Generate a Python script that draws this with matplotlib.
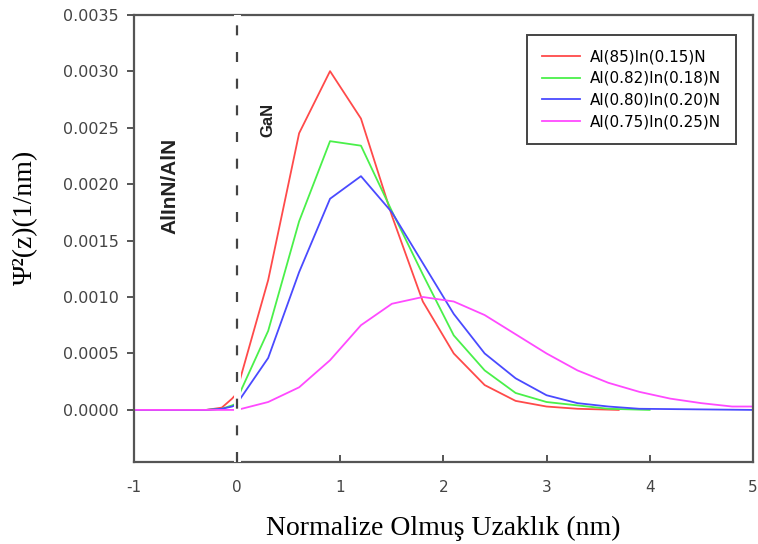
import matplotlib
matplotlib.use('Agg')
import matplotlib.pyplot as plt

plt.rcParams['axes.unicode_minus'] = False

# Data (x in nm, y = psi^2 in 1/nm)
x_red = [-1.0, -0.3, -0.15, -0.05, 0.0, 0.03, 0.3, 0.6, 0.9, 1.2, 1.5, 1.8, 2.1, 2.4, 2.7, 3.0, 3.3, 3.7]
y_red = [0, 0, 0.00002, 0.0001, 0.00015, 0.00028, 0.00115, 0.00245, 0.0030, 0.00258, 0.00172,
         0.00096, 0.00050, 0.00022, 0.00008, 0.00003, 0.00001, 0.0]

x_green = [-1.0, -0.3, -0.15, -0.05, 0.0, 0.03, 0.3, 0.6, 0.9, 1.2, 1.5, 1.8, 2.1, 2.4, 2.7, 3.0, 3.3, 3.6, 4.0]
y_green = [0, 0, 0.00001, 0.00004, 0.00006, 0.00016, 0.0007, 0.00167, 0.00238, 0.00234, 0.00176,
           0.0012, 0.00066, 0.00035, 0.00015, 0.00007, 0.00004, 0.00001, 0.0]

x_blue = [-1.0, -0.3, -0.15, -0.05, 0.0, 0.03, 0.3, 0.6, 0.9, 1.2, 1.5, 1.8, 2.1, 2.4, 2.7, 3.0, 3.3, 3.6, 3.9, 5.0]
y_blue = [0, 0, 0.00001, 0.00003, 0.00005, 0.0001, 0.00046, 0.00122, 0.00187, 0.00207, 0.00175,
          0.0013, 0.00085, 0.0005, 0.00028, 0.00013, 0.00006, 0.00003, 0.00001, 0.0]

x_mag = [-1.0, 0.0, 0.3, 0.6, 0.9, 1.2, 1.5, 1.8, 2.1, 2.4, 2.7, 3.0, 3.3, 3.6, 3.9, 4.2, 4.5, 4.8, 5.0]
y_mag = [0, 0, 0.00007, 0.0002, 0.00044, 0.00075, 0.00094, 0.001, 0.00096, 0.00084, 0.00067,
         0.0005, 0.00035, 0.00024, 0.00016, 0.0001, 0.00006, 0.00003, 0.00003]

labels = ['Al(85)In(0.15)N', 'Al(0.82)In(0.18)N', 'Al(0.80)In(0.20)N', 'Al(0.75)In(0.25)N']
colors = ['#ff4a4a', '#4af04a', '#4a4aff', '#ff4aff']

x_ticks = [-1, 0, 1, 2, 3, 4, 5]
y_ticks = [0.0, 0.0005, 0.0010, 0.0015, 0.0020, 0.0025, 0.0030, 0.0035]

fig = plt.figure(figsize=(7.58, 5.44), dpi=100)
ax = fig.add_axes([0.177, 0.151, 0.816, 0.822])

series = [(x_red, y_red), (x_green, y_green), (x_blue, y_blue), (x_mag, y_mag)]
for (xs, ys), lab, col in zip(series, labels, colors):
    ax.plot(xs, ys, color=col, lw=1.3, label=lab)

# interface line at z = 0 (white halo gives the break in curves and frame)
ax.axvline(0, color='white', lw=5, zorder=3)
ax.axvline(0, color='#444444', lw=1.6, ls=(0, (4.5, 7.5)), zorder=4)

ax.set_xlim(-1, 5)
ax.set_ylim(-0.00046, 0.0035)
ax.set_xticks(x_ticks)
ax.set_xticklabels([str(t) for t in x_ticks])
ax.set_yticks(y_ticks)
ax.set_yticklabels(['%.4f' % t for t in y_ticks])

for sp in ax.spines.values():
    sp.set_color('#555555')
    sp.set_linewidth(1.6)
ax.tick_params(axis='x', direction='in', length=5, width=1.4, color='#555555',
               labelsize=11, labelcolor='#444444', pad=13)
ax.tick_params(axis='y', direction='out', length=5, width=1.4, color='#555555',
               labelsize=11.5, labelcolor='#444444', pad=6)
for t in ax.get_xticklabels() + ax.get_yticklabels():
    t.set_family('DejaVu Sans')

ax.set_xlabel('Normalize Olmuş Uzaklık (nm)', family='Liberation Serif', fontsize=20, labelpad=15)
ax.set_ylabel('Ψ²(z)(1/nm)', family='Liberation Serif', fontsize=20)
ax.yaxis.set_label_coords(-0.155, 0.547)

ax.text(-0.65, 0.00198, 'AlInN/AlN', rotation=90, ha='center', va='center',
        family='Liberation Sans', fontweight='bold', fontsize=15, color='#222222')
ax.text(0.30, 0.00257, 'GaN', rotation=90, ha='center', va='center',
        family='Liberation Sans', fontweight='bold', fontsize=12, color='#222222')

leg = ax.legend(loc='upper right', bbox_to_anchor=(0.9725, 0.955), borderaxespad=0,
                fancybox=False, edgecolor='#444444', framealpha=1,
                prop={'family': 'DejaVu Sans', 'size': 11},
                handlelength=2.5, labelspacing=0.43, borderpad=0.95, handletextpad=0.65)
leg.get_frame().set_linewidth(1.4)

fig.savefig('out.png', dpi=100)
